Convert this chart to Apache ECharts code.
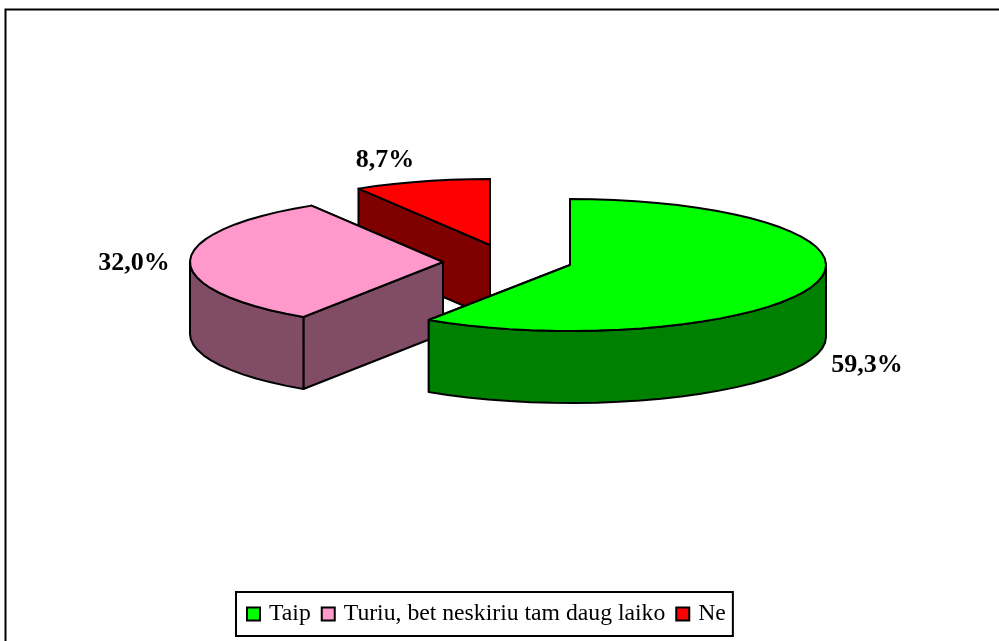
<!DOCTYPE html>
<html><head><meta charset="utf-8">
<style>html,body{margin:0;padding:0;background:#fff}#c{width:999px;height:641px}</style>
<script src="https://cdn.jsdelivr.net/npm/echarts@6/dist/echarts.min.js"></script>
</head><body><div id="c"></div>
<script>
const categories = ['Taip', 'Turiu, bet neskiriu tam daug laiko', 'Ne'];
const values = [59.3, 32.0, 8.7];
const labels = ['59,3%', '32,0%', '8,7%'];
const topColors = ['#00FF00', '#FF99CC', '#FF0000'];
const wallColors = ['#008000', '#804C66', '#800000'];
// layout of the exploded slices and their labels
const centers = [[570, 265], [443, 262], [490, 245]];
const radiiX = [256, 253, 253];
const labelOffsets = [[297, 100], [-309, 1], [-105, -85]];
const RY = 66, DEPTH = 72;
const FONT = '"Liberation Serif","Times New Roman",serif';
const total = values.reduce((a, b) => a + b, 0);
const startPct = values.map((v, i) => values.slice(0, i).reduce((a, b) => a + b, 0));

function pt(c, rx, deg, dy) {
  const r = deg * Math.PI / 180;
  return [c[0] + rx * Math.sin(r), c[1] - RY * Math.cos(r) + (dy || 0)];
}
function arc(c, rx, a0, a1, dy) {
  const n = Math.max(2, Math.ceil(Math.abs(a1 - a0) / 5));
  const out = [];
  for (let k = 0; k <= n; k++) out.push(pt(c, rx, a0 + (a1 - a0) * k / n, dy));
  return out;
}
const stroke = { stroke: '#000', lineWidth: 2, lineJoin: 'round' };
function poly(points, fill) {
  return { type: 'polygon', shape: { points }, style: Object.assign({ fill }, stroke) };
}
function renderSlice(i) {
  return function (params, api) {
    const a0 = startPct[i] / total * 360;
    const a1 = a0 + api.value(0) / total * 360;
    const c = centers[i], rx = radiiX[i];
    const bottom = [c[0], c[1] + DEPTH];
    const kids = [];
    kids.push(poly([c, pt(c, rx, a1), pt(c, rx, a1, DEPTH), bottom], wallColors[i]));
    kids.push(poly([c, pt(c, rx, a0), pt(c, rx, a0, DEPTH), bottom], wallColors[i]));
    const w0 = Math.max(a0, 90), w1 = Math.min(a1, 270);
    if (w1 > w0) {
      kids.push(poly(arc(c, rx, w0, w1, 0).concat(arc(c, rx, w1, w0, DEPTH)), wallColors[i]));
    }
    kids.push(poly([c].concat(arc(c, rx, a0, a1, 0)), topColors[i]));
    kids.push({
      type: 'text',
      style: {
        x: c[0] + labelOffsets[i][0], y: c[1] + labelOffsets[i][1],
        text: labels[i], fill: '#000', font: 'bold 26px ' + FONT,
        align: 'center', verticalAlign: 'middle'
      }
    });
    return { type: 'group', children: kids };
  };
}

const chart = echarts.init(document.getElementById('c'), null, { width: 999, height: 641 });
chart.setOption({
  animation: false,
  backgroundColor: '#fff',
  graphic: [{
    type: 'rect', shape: { x: 5.5, y: 9.5, width: 1100, height: 800 },
    style: { fill: 'none', stroke: '#000', lineWidth: 2 }, z: -1, silent: true
  }],
  legend: {
    data: categories, left: 236, top: 592, orient: 'horizontal',
    padding: [10, 7, 10, 10], itemGap: 10, itemWidth: 13, itemHeight: 13,
    icon: 'rect', selectedMode: false,
    backgroundColor: '#fff', borderColor: '#000', borderWidth: 2, borderRadius: 0,
    itemStyle: { borderColor: '#000', borderWidth: 2 },
    textStyle: { fontFamily: FONT, fontSize: 23.7, color: '#000', padding: [0, 0, 0, 4] }
  },
  series: categories.map((name, i) => ({
    type: 'custom', name, coordinateSystem: 'none', z: 4 - i,
    itemStyle: { color: topColors[i] },
    data: [[values[i]]],
    renderItem: renderSlice(i), silent: true
  }))
});
</script></body></html>
